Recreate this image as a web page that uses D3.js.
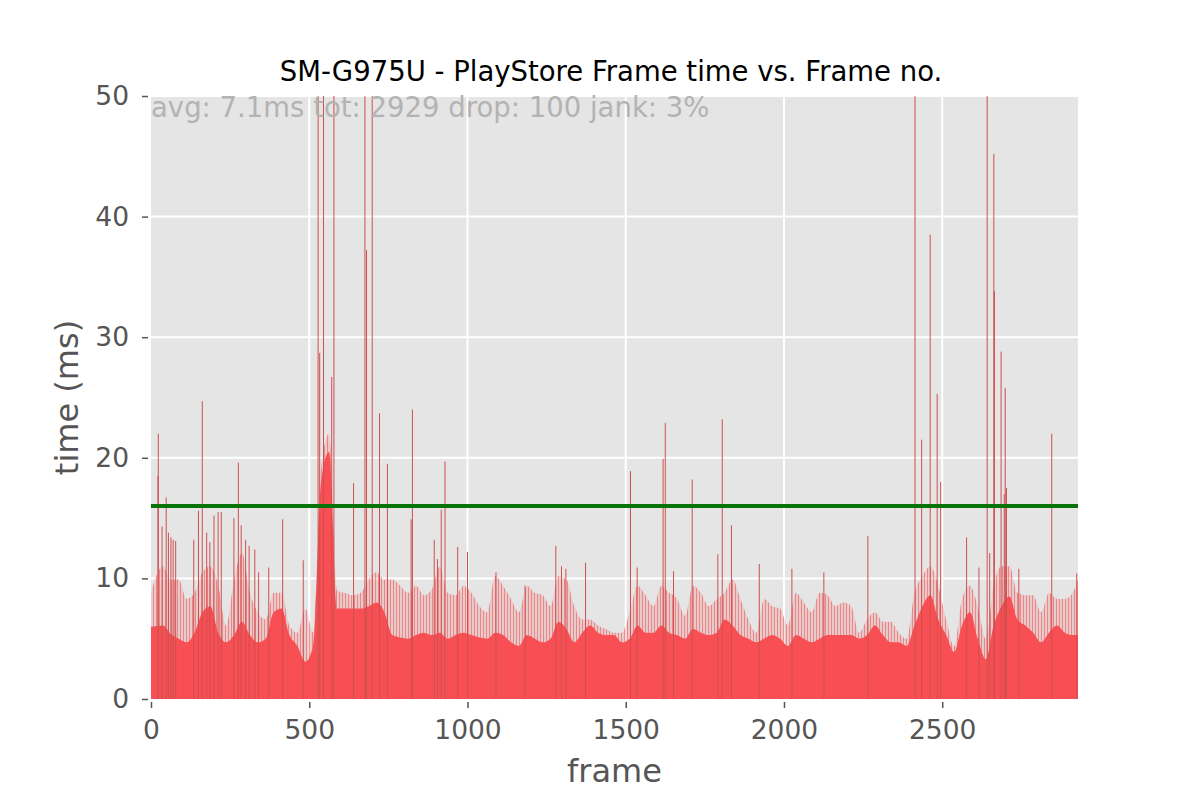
<!DOCTYPE html>
<html>
<head>
    <meta charset="utf-8">
    <title>Frame time vs. Frame no.</title>
    <style>
    body { margin: 0; background: #fff; }
    svg text { font-family: "DejaVu Sans", sans-serif; }
    </style>
</head>
<body>
    <script src="https://d3js.org/d3.v7.min.js"></script>
    <script>
    // chart values
    var totalFrames = 2929;
    var chunkSize = 25; // each base / fuzz value covers 25 frames
    // level of the solid red fill per chunk (ms)
    var baseMs = [
        6.0, 6.1, 5.4, 5.0, 4.7, 5.5, 7.2, 7.7, 5.5, 4.7,
        5.3, 6.4, 5.3, 4.7, 5.0, 7.2, 7.5, 5.3, 4.4, 3.1,
        4.4, 18.0, 20.5, 7.5, 7.5, 7.5, 7.5, 7.7, 8.0, 7.2,
        5.3, 5.1, 5.0, 5.3, 5.5, 5.3, 5.5, 5.0, 5.3, 5.5,
        5.3, 5.1, 5.0, 5.5, 5.3, 4.7, 4.4, 5.3, 5.0, 4.7,
        5.0, 6.4, 5.8, 4.7, 5.5, 6.1, 5.5, 5.3, 5.3, 4.7,
        5.0, 6.1, 5.5, 5.5, 6.1, 5.5, 5.3, 5.0, 5.8, 5.5,
        5.3, 5.5, 6.6, 6.1, 5.3, 5.0, 4.7, 5.0, 5.3, 5.0,
        4.4, 5.3, 5.0, 4.7, 5.0, 5.3, 5.3, 5.3, 5.3, 5.0,
        5.3, 6.1, 5.3, 4.7, 4.7, 4.4, 6.1, 7.7, 8.6, 6.6,
        5.3, 3.9, 6.1, 7.2, 5.0, 3.3, 6.1, 7.7, 8.5, 6.6,
        6.1, 5.5, 4.7, 5.5, 6.1, 5.5, 5.3, 5.3
    ];
    // top of the light, dense fringe of thin bars above the fill (ms)
    var fuzzMs = [
        8.8, 11.0, 9.9, 9.9, 8.3, 8.8, 10.5, 11.0, 9.4, 6.1,
        9.9, 12.1, 8.8, 7.2, 6.6, 8.8, 8.8, 6.1, 5.5, 7.5,
        5.5, 19.0, 22.0, 9.0, 8.8, 8.6, 8.8, 9.9, 10.5, 9.9,
        9.9, 9.4, 8.8, 9.4, 8.6, 9.1, 11.0, 8.8, 8.6, 9.4,
        8.8, 7.7, 7.2, 10.2, 9.4, 8.3, 7.2, 9.4, 8.8, 8.6,
        7.7, 10.2, 9.9, 7.7, 6.6, 6.6, 6.1, 5.8, 5.5, 5.5,
        7.2, 9.4, 8.6, 7.7, 9.4, 8.8, 8.3, 6.9, 9.4, 8.8,
        7.7, 8.3, 8.8, 9.9, 8.3, 6.6, 5.5, 8.3, 7.7, 7.5,
        6.1, 8.8, 8.0, 7.2, 8.8, 8.6, 7.7, 8.0, 7.7, 5.5,
        6.6, 7.2, 6.4, 6.4, 5.5, 5.0, 8.8, 10.2, 11.0, 9.4,
        6.6, 4.4, 8.3, 9.4, 7.7, 5.0, 9.4, 11.0, 11.0, 8.8,
        8.6, 8.6, 7.2, 8.8, 8.3, 8.3, 8.8, 9.9
    ];
    // single tall frames (frame no., ms); values above 50 run off the top
    var spikeFrames = [
        22, 23, 35, 48, 55, 63, 70, 78, 135, 150,
        162, 176, 186, 199, 212, 222, 262, 276, 285, 299,
        310, 328, 340, 372, 416, 481, 528, 533, 545, 571,
        578, 640, 676, 681, 699, 722, 747, 822, 826, 895,
        905, 917, 929, 969, 1000, 1090, 1182, 1279, 1297, 1311,
        1373, 1515, 1536, 1618, 1625, 1651, 1710, 1791, 1805, 1834,
        1922, 2025, 2126, 2265, 2414, 2435, 2462, 2484, 2495, 2577,
        2616, 2642, 2650, 2663, 2665, 2686, 2696, 2699, 2703, 2742,
        2846, 2925
    ];
    var spikeMs = [
        18.5, 22.0, 14.3, 16.7, 13.8, 13.4, 13.2, 13.1, 13.2, 15.6,
        24.7, 13.8, 13.0, 15.2, 15.5, 15.5, 15.0, 19.6, 14.4, 13.2,
        12.7, 12.4, 10.5, 10.9, 14.9, 11.5, 60, 28.7, 60, 26.7,
        60, 17.9, 60, 37.2, 60, 23.7, 19.5, 14.9, 24.0, 13.2,
        11.6, 15.7, 19.7, 12.6, 12.2, 10.5, 9.4, 12.7, 11.0, 10.8,
        11.3, 18.9, 10.9, 19.9, 22.9, 10.6, 18.2, 12.0, 23.2, 14.4,
        11.2, 10.8, 10.5, 13.5, 60, 21.5, 38.5, 25.3, 18.0, 13.4,
        10.9, 60, 12.1, 45.2, 33.8, 28.8, 17.0, 25.8, 17.5, 10.8,
        22.0, 10.4
    ];
    var targetMs = 16; // 60 fps frame budget
    var xTicks = [0, 500, 1000, 1500, 2000, 2500];
    var yTicks = [0, 10, 20, 30, 40, 50];
    var titleText = "SM-G975U - PlayStore Frame time vs. Frame no.";
    var statsText = "avg: 7.1ms tot: 2929 drop: 100 jank: 3%";

    var plotLeft = 151, plotRight = 1078, plotTop = 96, plotBottom = 699;

    var svg = d3.select("body").append("svg")
        .attr("width", 1200)
        .attr("height", 800);

    var x = d3.scaleLinear().domain([0, totalFrames]).range([plotLeft, plotRight]);
    var y = d3.scaleLinear().domain([0, 50]).range([plotBottom, plotTop]);

    // thin vertical stripes, to give the fringe the look of many 1px bars
    var defs = svg.append("defs");
    var pat = defs.append("pattern")
        .attr("id", "fringe")
        .attr("patternUnits", "userSpaceOnUse")
        .attr("width", 3).attr("height", 10);
    pat.append("rect").attr("width", 3).attr("height", 10)
        .attr("fill", "#f74f53").attr("opacity", 0.18);
    pat.append("rect").attr("width", 1).attr("height", 10)
        .attr("fill", "#ef5a5d").attr("opacity", 0.6);
    defs.append("clipPath").attr("id", "plotclip")
        .append("rect")
        .attr("x", plotLeft).attr("y", plotTop)
        .attr("width", plotRight - plotLeft).attr("height", plotBottom - plotTop);

    // plot background
    svg.append("rect")
        .attr("x", plotLeft).attr("y", plotTop)
        .attr("width", plotRight - plotLeft).attr("height", plotBottom - plotTop)
        .attr("fill", "#e5e5e5");

    // grid
    svg.append("g").selectAll("line")
        .data(yTicks.slice(1))
        .enter().append("line")
        .attr("x1", plotLeft).attr("x2", plotRight)
        .attr("y1", function(d) { return y(d); })
        .attr("y2", function(d) { return y(d); })
        .attr("stroke", "#fff").attr("stroke-width", 2);
    svg.append("g").selectAll("line")
        .data(xTicks.slice(1))
        .enter().append("line")
        .attr("y1", plotTop).attr("y2", plotBottom)
        .attr("x1", function(d) { return x(d); })
        .attr("x2", function(d) { return x(d); })
        .attr("stroke", "#fff").attr("stroke-width", 2);

    var plot = svg.append("g").attr("clip-path", "url(#plotclip)");

    // centre frame of each chunk, with the ends pinned to the axis limits
    function chunkMid(i, n) {
        if (i === 0) return 0;
        if (i === n - 1) return totalFrames;
        return i * chunkSize + chunkSize / 2;
    }

    var fuzzArea = d3.area()
        .x(function(d, i) { return x(chunkMid(i, fuzzMs.length)); })
        .y0(y(0))
        .y1(function(d) { return y(d); })
        .curve(d3.curveMonotoneX);
    var baseArea = d3.area()
        .x(function(d, i) { return x(chunkMid(i, baseMs.length)); })
        .y0(y(0))
        .y1(function(d) { return y(d); })
        .curve(d3.curveMonotoneX);

    // light fringe
    plot.append("path")
        .datum(fuzzMs)
        .attr("d", fuzzArea)
        .attr("fill", "url(#fringe)");

    // solid fill
    plot.append("path")
        .datum(baseMs)
        .attr("d", baseArea)
        .attr("fill", "#f74f53");

    // tall single frames
    plot.selectAll("line.spike")
        .data(spikeFrames)
        .enter().append("line")
        .attr("class", "spike")
        .attr("x1", function(d) { return x(d); })
        .attr("x2", function(d) { return x(d); })
        .attr("y1", y(0))
        .attr("y2", function(d, i) { return y(Math.min(spikeMs[i], 50)); })
        .attr("stroke", "#cf4f4f")
        .attr("stroke-width", 1);

    // 16 ms budget line
    svg.append("line")
        .attr("x1", plotLeft).attr("x2", plotRight)
        .attr("y1", y(targetMs)).attr("y2", y(targetMs))
        .attr("stroke", "#087308").attr("stroke-width", 4);

    // axes, ticks sit a few px off the plot edge like matplotlib
    var xAxis = svg.append("g")
        .attr("transform", "translate(0," + (plotBottom + 3) + ")")
        .call(d3.axisBottom(x).tickValues(xTicks).tickFormat(d3.format("d"))
            .tickSize(6).tickPadding(12));
    var yAxis = svg.append("g")
        .attr("transform", "translate(" + (plotLeft - 3) + ",0)")
        .call(d3.axisLeft(y).tickValues(yTicks).tickFormat(d3.format("d"))
            .tickSize(6).tickPadding(13));
    [xAxis, yAxis].forEach(function(a) {
        a.select(".domain").remove();
        a.selectAll(".tick line").attr("stroke", "#555").attr("stroke-width", 1.5);
        a.selectAll(".tick text")
            .attr("fill", "#555")
            .style("font-size", "26.5px")
            .style("font-family", "DejaVu Sans, sans-serif");
    });

    // texts
    svg.append("text")
        .attr("x", 611).attr("y", 81)
        .attr("text-anchor", "middle")
        .style("font-size", "27.5px")
        .attr("fill", "#000")
        .text(titleText);

    svg.append("text")
        .attr("x", plotLeft).attr("y", 117)
        .style("font-size", "27.5px")
        .attr("fill", "#b3b3b3")
        .text(statsText);

    svg.append("text")
        .attr("x", (plotLeft + plotRight) / 2).attr("y", 782)
        .attr("text-anchor", "middle")
        .style("font-size", "32px")
        .attr("fill", "#555")
        .text("frame");

    svg.append("text")
        .attr("transform", "translate(78," + (plotTop + plotBottom) / 2 + ") rotate(-90)")
        .attr("text-anchor", "middle")
        .style("font-size", "32px")
        .attr("fill", "#555")
        .text("time (ms)");
    </script>
</body>
</html>
